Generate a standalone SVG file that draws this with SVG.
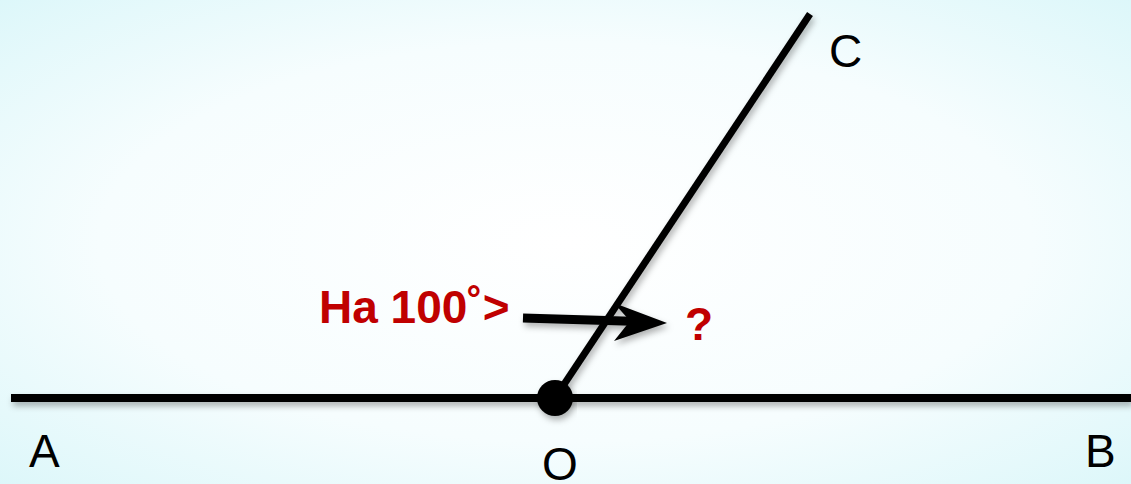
<svg xmlns="http://www.w3.org/2000/svg" width="1131" height="484" viewBox="0 0 1131 484">
<defs>
<radialGradient id="bg" cx="0.5" cy="0.5" r="0.75">
<stop offset="0" stop-color="#ffffff"/>
<stop offset="0.55" stop-color="#f6fdfe"/>
<stop offset="1" stop-color="#d9f6f9"/>
</radialGradient>
<filter id="sh" x="-10%" y="-50%" width="120%" height="200%">
<feDropShadow dx="2" dy="4" stdDeviation="3" flood-color="#000" flood-opacity="0.3"/>
</filter>
</defs>
<style>
.ln{stroke:#000;fill:none}
.lbl{font-family:"Liberation Sans",Arial,sans-serif;font-size:46px;fill:#000}
.red{font-family:"Liberation Sans",Arial,sans-serif;font-size:46px;font-weight:bold;fill:#c00000}
</style>
<rect width="1131" height="484" fill="url(#bg)"/>
<g id="connectors" filter="url(#sh)">
<line id="AB" class="ln" x1="11" y1="398" x2="1131" y2="398" stroke-width="8"/>
<line id="OC" class="ln" x1="555" y1="398" x2="810" y2="14" stroke-width="7"/>
<g id="arrow">
<line class="ln" x1="523" y1="318" x2="640" y2="321.5" stroke-width="9"/>
<polygon points="667,323 614,303 630,321 614,341" fill="#000"/>
</g>
</g>
<g id="node-O" filter="url(#sh)">
<circle cx="555" cy="398" r="18" fill="#000"/>
</g>
<g id="label-A"><text class="lbl" x="29" y="467">A</text></g>
<g id="label-B"><text class="lbl" x="1085" y="467">B</text></g>
<g id="label-C"><text class="lbl" x="829" y="67">C</text></g>
<g id="label-O"><text class="lbl" x="542" y="480">O</text></g>
<g id="label-angle"><text class="red" x="319" y="323">Ha 100˚&gt;</text></g>
<g id="label-q"><text class="red" x="685" y="340">?</text></g>
</svg>
